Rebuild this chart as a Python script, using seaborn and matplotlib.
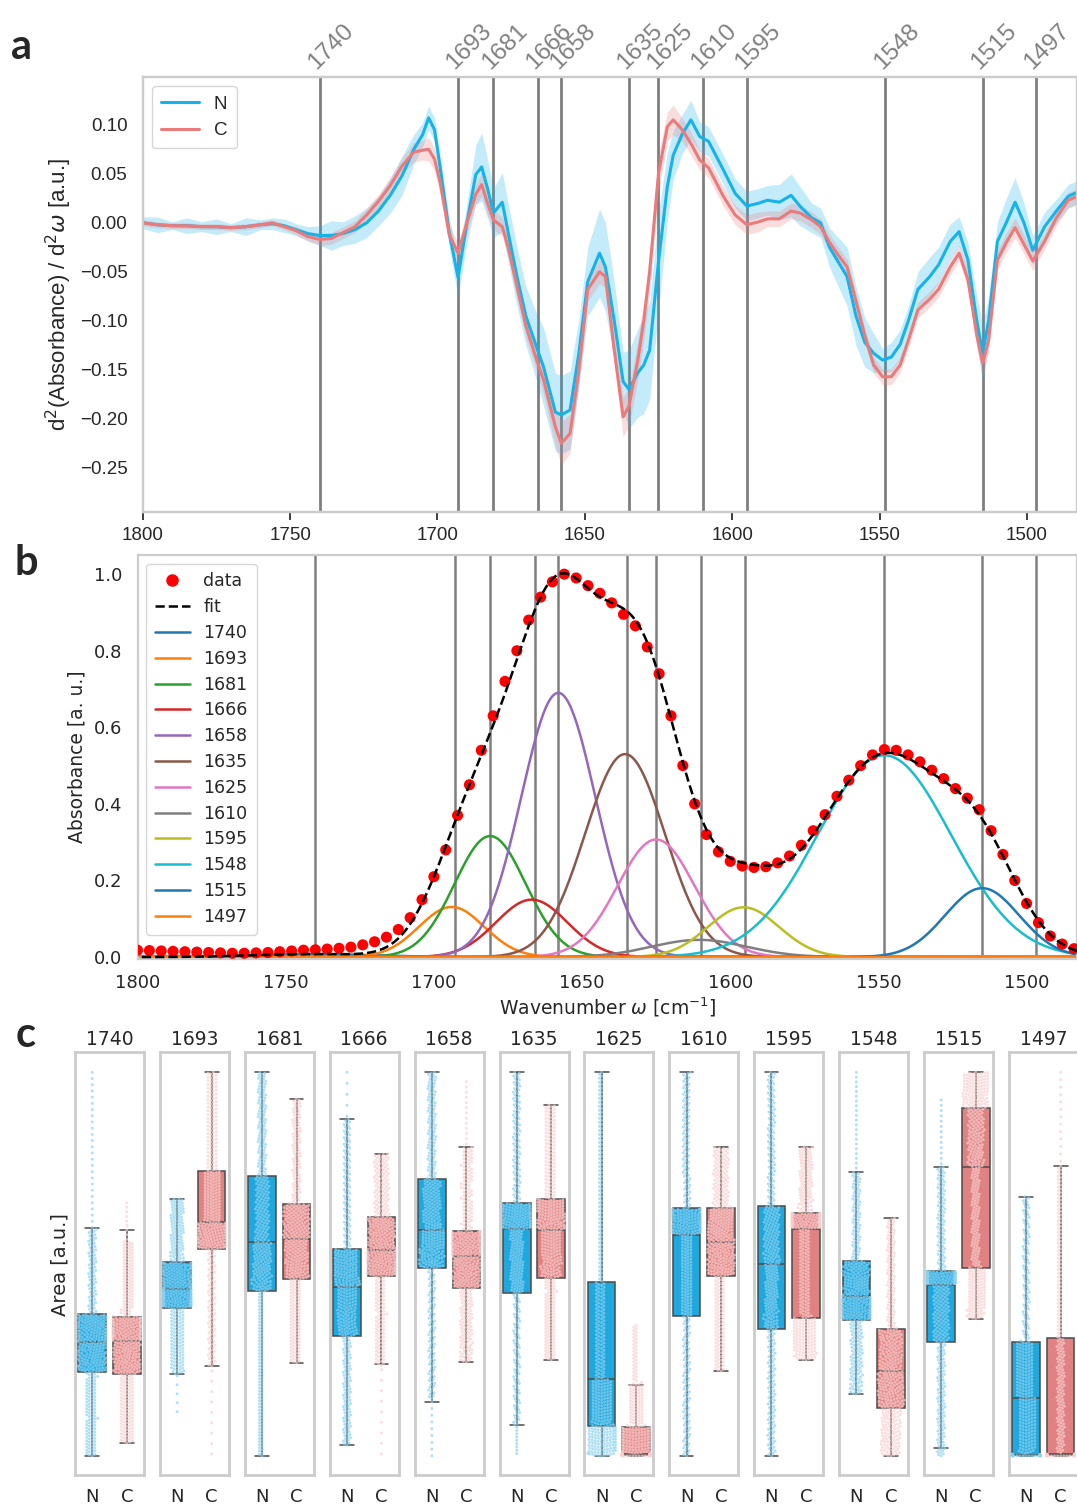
import warnings
import numpy as np
import pandas as pd
import matplotlib
matplotlib.use("Agg")
import matplotlib.pyplot as plt
from matplotlib.lines import Line2D
import seaborn as sns

warnings.filterwarnings("ignore")

# band positions (cm-1)
bands = [1740, 1693, 1681, 1666, 1658, 1635, 1625, 1610, 1595, 1548, 1515, 1497]

# ---- panel a: second derivative spectra, mean and spread per class
wn_a = [1800, 1795, 1790, 1785, 1780, 1775, 1770, 1765, 1760, 1756, 1752, 1748, 1744, 1740,
        1736, 1732, 1728, 1724, 1720, 1716, 1712, 1708, 1705, 1703, 1701, 1699, 1696, 1693,
        1690, 1687, 1685, 1683, 1681, 1678, 1676, 1673, 1670, 1666, 1664, 1660, 1658, 1655,
        1652, 1649, 1645, 1643, 1640, 1637, 1635, 1632, 1630, 1628, 1625, 1622, 1620, 1617,
        1614, 1611, 1608, 1603, 1599, 1595, 1591, 1588, 1584, 1580, 1577, 1573, 1570, 1567,
        1564, 1561, 1558, 1555, 1552, 1549, 1546, 1543, 1540, 1537, 1533, 1530, 1526, 1523,
        1520, 1517, 1515, 1513, 1510, 1507, 1504, 1501, 1498, 1494, 1490, 1486, 1483]
d2_n = [0.000, -0.002, -0.003, -0.003, -0.004, -0.004, -0.005, -0.004, -0.002, -0.001, -0.003,
        -0.007, -0.011, -0.013, -0.013, -0.011, -0.007, 0.000, 0.012, 0.028, 0.048, 0.075, 0.090,
        0.107, 0.095, 0.055, -0.010, -0.056, 0.000, 0.049, 0.057, 0.035, 0.010, 0.021, -0.010,
        -0.055, -0.095, -0.130, -0.147, -0.193, -0.196, -0.191, -0.133, -0.060, -0.031, -0.045,
        -0.100, -0.162, -0.170, -0.153, -0.145, -0.130, -0.040, 0.037, 0.069, 0.090, 0.105, 0.088,
        0.083, 0.054, 0.030, 0.017, 0.020, 0.023, 0.021, 0.028, 0.017, 0.005, 0.000, -0.025,
        -0.040, -0.055, -0.095, -0.122, -0.133, -0.140, -0.137, -0.124, -0.098, -0.068, -0.055,
        -0.043, -0.019, -0.009, -0.038, -0.100, -0.133, -0.100, -0.019, 0.000, 0.021, 0.000,
        -0.028, -0.004, 0.012, 0.027, 0.031]
d2_c = [0.000, -0.002, -0.003, -0.003, -0.004, -0.004, -0.005, -0.004, -0.002, 0.000, -0.004,
        -0.008, -0.014, -0.017, -0.016, -0.010, -0.004, 0.008, 0.022, 0.038, 0.058, 0.072, 0.074,
        0.075, 0.065, 0.040, -0.012, -0.031, 0.000, 0.029, 0.039, 0.020, 0.003, -0.004, -0.025,
        -0.065, -0.105, -0.143, -0.160, -0.208, -0.225, -0.215, -0.150, -0.068, -0.050, -0.055,
        -0.130, -0.198, -0.187, -0.140, -0.100, -0.050, 0.050, 0.098, 0.105, 0.095, 0.081, 0.064,
        0.056, 0.027, 0.008, -0.002, 0.001, 0.004, 0.004, 0.012, 0.010, 0.003, -0.004, -0.020,
        -0.033, -0.045, -0.080, -0.115, -0.145, -0.157, -0.157, -0.145, -0.118, -0.089, -0.078,
        -0.068, -0.045, -0.031, -0.058, -0.115, -0.143, -0.120, -0.038, -0.020, -0.005, -0.022,
        -0.039, -0.019, 0.005, 0.023, 0.027]
err_n = [0.006, 0.008, 0.004, 0.008, 0.005, 0.008, 0.004, 0.009, 0.005, 0.006, 0.007, 0.006,
         0.007, 0.010, 0.015, 0.012, 0.014, 0.015, 0.015, 0.018, 0.020, 0.015, 0.012, 0.012,
         0.012, 0.012, 0.015, 0.020, 0.020, 0.030, 0.035, 0.030, 0.025, 0.030, 0.030, 0.030,
         0.030, 0.035, 0.040, 0.040, 0.040, 0.040, 0.035, 0.035, 0.045, 0.045, 0.040, 0.030,
         0.040, 0.045, 0.050, 0.050, 0.050, 0.035, 0.025, 0.020, 0.020, 0.015, 0.015, 0.015,
         0.015, 0.015, 0.015, 0.015, 0.018, 0.022, 0.020, 0.015, 0.015, 0.020, 0.025, 0.030,
         0.030, 0.025, 0.020, 0.012, 0.015, 0.015, 0.015, 0.018, 0.020, 0.018, 0.018, 0.015,
         0.018, 0.025, 0.030, 0.025, 0.020, 0.025, 0.025, 0.020, 0.015, 0.015, 0.012, 0.012, 0.012]
err_c = [0.003, 0.003, 0.003, 0.003, 0.003, 0.003, 0.003, 0.003, 0.003, 0.003, 0.003, 0.004,
         0.005, 0.006, 0.006, 0.006, 0.006, 0.007, 0.007, 0.008, 0.008, 0.010, 0.010, 0.012,
         0.012, 0.012, 0.010, 0.010, 0.010, 0.010, 0.012, 0.012, 0.010, 0.010, 0.010, 0.012,
         0.012, 0.012, 0.015, 0.020, 0.022, 0.020, 0.015, 0.012, 0.012, 0.012, 0.015, 0.020,
         0.020, 0.020, 0.020, 0.020, 0.020, 0.015, 0.015, 0.012, 0.012, 0.010, 0.010, 0.010,
         0.010, 0.010, 0.010, 0.008, 0.008, 0.008, 0.008, 0.008, 0.008, 0.008, 0.008, 0.008,
         0.008, 0.008, 0.008, 0.008, 0.008, 0.008, 0.008, 0.008, 0.008, 0.008, 0.008, 0.008,
         0.010, 0.012, 0.015, 0.012, 0.010, 0.010, 0.010, 0.010, 0.010, 0.008, 0.008, 0.008, 0.008]

# ---- panel b: measured spectrum (every 4 cm-1) and fitted components
wn_b = list(range(1800, 1483, -4))
absorb = [0.018, 0.017, 0.016, 0.015, 0.014, 0.013, 0.012, 0.011, 0.010, 0.010, 0.011, 0.012,
          0.014, 0.016, 0.018, 0.019, 0.021, 0.023, 0.026, 0.032, 0.040, 0.052, 0.072, 0.103,
          0.150, 0.210, 0.280, 0.370, 0.450, 0.540, 0.630, 0.720, 0.800, 0.880, 0.940, 0.980,
          1.000, 0.990, 0.970, 0.950, 0.925, 0.895, 0.865, 0.810, 0.740, 0.630, 0.500, 0.400,
          0.320, 0.275, 0.250, 0.238, 0.234, 0.236, 0.246, 0.264, 0.292, 0.330, 0.372, 0.420,
          0.462, 0.500, 0.528, 0.542, 0.540, 0.528, 0.510, 0.488, 0.466, 0.440, 0.415, 0.385,
          0.330, 0.268, 0.200, 0.140, 0.090, 0.055, 0.034, 0.022]
comp_center = [1740, 1694, 1681, 1667, 1658, 1635.5, 1625, 1610.5, 1595.5, 1548, 1515, 1497]
comp_height = [0.008, 0.131, 0.316, 0.150, 0.690, 0.530, 0.307, 0.045, 0.130, 0.527, 0.180, 0.002]
comp_sigma = [20, 11, 12, 12, 12.5, 13.5, 13, 16, 12, 22.5, 12.5, 15]

# ---- panel c: box statistics of band areas (normalised per band)
n_min = [0.0, 0.115, 0.0, 0.028, 0.0, 0.006, 0.0, 0.0, 0.0, 0.161, 0.0, 0.0]
n_wlo = [0.0, 0.213, 0.0, 0.028, 0.148, 0.078, 0.0, 0.0, 0.0, 0.161, 0.023, 0.0]
n_q1 = [0.219, 0.387, 0.430, 0.312, 0.489, 0.426, 0.078, 0.365, 0.330, 0.354, 0.297, 0.002]
n_med = [0.297, 0.434, 0.557, 0.441, 0.589, 0.591, 0.199, 0.577, 0.500, 0.417, 0.447, 0.151]
n_q3 = [0.369, 0.504, 0.730, 0.539, 0.721, 0.658, 0.452, 0.645, 0.650, 0.508, 0.482, 0.297]
n_whi = [0.593, 0.670, 1.0, 0.880, 1.0, 1.0, 1.0, 1.0, 1.0, 0.739, 0.754, 0.676]
n_max = [1.0, 0.670, 1.0, 1.0, 1.0, 1.0, 1.0, 1.0, 1.0, 1.0, 0.928, 0.676]
n_tail_lo = [0, 0.01, 0, 0, 0.02, 0.02, 0, 0, 0, 0, 0.02, 0]
n_tail_hi = [0.06, 0, 0, 0.01, 0, 0, 0, 0, 0, 0.05, 0.03, 0]

c_min = [0.034, 0.005, 0.243, 0.005, 0.245, 0.251, 0.0, 0.221, 0.251, 0.0, 0.358, 0.0]
c_wlo = [0.034, 0.232, 0.243, 0.235, 0.245, 0.251, 0.0, 0.221, 0.251, 0.0, 0.358, 0.0]
c_q1 = [0.213, 0.539, 0.461, 0.469, 0.437, 0.465, 0.003, 0.470, 0.360, 0.126, 0.490, 0.002]
c_med = [0.300, 0.609, 0.565, 0.537, 0.522, 0.589, 0.005, 0.557, 0.593, 0.221, 0.754, 0.004]
c_q3 = [0.363, 0.743, 0.657, 0.623, 0.586, 0.670, 0.076, 0.647, 0.634, 0.330, 0.906, 0.306]
c_whi = [0.560, 1.0, 0.930, 0.787, 0.806, 0.915, 0.189, 0.804, 0.806, 0.619, 1.0, 0.757]
c_max = [0.660, 1.0, 0.930, 0.787, 0.975, 0.915, 0.340, 0.804, 0.806, 0.619, 1.0, 1.0]
c_tail_lo = [0, 0.02, 0, 0.02, 0, 0, 0, 0, 0, 0, 0, 0]
c_tail_hi = [0.02, 0, 0, 0, 0.03, 0, 0.08, 0, 0, 0, 0, 0.03]

N_LINE, C_LINE = "#16B2EA", "#EB7B7B"
N_BOX, C_BOX = "#1EA8DD", "#E08282"
N_PT, C_PT = "#8DD2F1", "#F9CFCF"
VLINE = "#7f7f7f"
ARIAL = "Liberation Sans"

sns.set_theme(style="whitegrid", rc={"axes.grid": False, "axes.edgecolor": "#cccccc",
                                     "axes.linewidth": 1.6, "xtick.bottom": False,
                                     "ytick.left": False})
plt.rcParams["font.family"] = ["DejaVu Sans"]

W, H = 1077, 1505
fig = plt.figure(figsize=(W / 100, H / 100), dpi=100)


def box(l, t, r, b):
    return [l / W, 1 - b / H, (r - l) / W, (b - t) / H]


# ================= panel a
ax = fig.add_axes(box(142.7, 76.7, 1077, 512))
for b in bands:
    ax.axvline(b, color=VLINE, lw=2, zorder=1)
lo_n = np.array(d2_n) - np.array(err_n)
hi_n = np.array(d2_n) + np.array(err_n)
lo_c = np.array(d2_c) - np.array(err_c)
hi_c = np.array(d2_c) + np.array(err_c)
ax.fill_between(wn_a, lo_n, hi_n, color=N_LINE, alpha=0.25, lw=0, zorder=2)
ax.fill_between(wn_a, lo_c, hi_c, color=C_LINE, alpha=0.25, lw=0, zorder=2)
sns.lineplot(x=wn_a, y=d2_n, color=N_LINE, lw=2.2, label="N", ax=ax, zorder=3)
sns.lineplot(x=wn_a, y=d2_c, color=C_LINE, lw=2.2, label="C", ax=ax, zorder=3)
ax.set_xlim(1800, 1483)
ax.set_ylim(-0.295, 0.149)
ax.set_xticks([1800, 1750, 1700, 1650, 1600, 1550, 1500])
ax.set_yticks([0.10, 0.05, 0.00, -0.05, -0.10, -0.15, -0.20, -0.25])
ax.tick_params(labelsize=13.5, pad=5)
for lbl in ax.get_xticklabels() + ax.get_yticklabels():
    lbl.set_fontfamily(ARIAL)
ax.set_ylabel(r"d$^2$(Absorbance) / d$^2\omega$ [a.u.]", fontsize=16, family=ARIAL, labelpad=4)
leg = ax.legend(loc="upper left", prop={"family": ARIAL, "size": 13.5},
                handlelength=2.0, borderpad=0.5, frameon=True)
leg.get_frame().set_edgecolor("#cccccc")

top = ax.twiny()
top.set_xlim(ax.get_xlim())
top.set_xticks(bands)
top.set_xticklabels([str(b) for b in bands], rotation=45, ha="left", va="bottom",
                    rotation_mode="anchor", color="#808080", fontsize=17.5, family=ARIAL)
top.tick_params(axis="x", top=False, length=0, pad=2)
top.grid(False)

# ================= panel b
ax = fig.add_axes(box(137.5, 555, 1077, 959))
for b in bands:
    ax.axvline(b, color=VLINE, lw=1.8, zorder=1)
x_fine = np.linspace(1800, 1483, 700)
palette = sns.color_palette("tab10")
comp_colors = [palette[i % 10] for i in range(len(bands))]
fit = np.zeros_like(x_fine)
comp_handles = []
for b, c0, h0, s0, col in zip(bands, comp_center, comp_height, comp_sigma, comp_colors):
    yk = h0 * np.exp(-0.5 * ((x_fine - c0) / s0) ** 2)
    fit += yk
    sns.lineplot(x=x_fine, y=yk, color=col, lw=1.8, ax=ax, zorder=2)
    comp_handles.append(Line2D([], [], color=col, lw=1.8, label=str(b)))
sns.scatterplot(x=wn_b, y=absorb, color="#ff0000", s=64, edgecolor="none", ax=ax, zorder=3)
sns.lineplot(x=x_fine, y=fit, color="black", lw=1.8, ls="--", ax=ax, zorder=4)
ax.set_xlim(1800, 1483)
ax.set_ylim(-0.005, 1.05)
ax.set_xticks([1800, 1750, 1700, 1650, 1600, 1550, 1500])
ax.set_yticks([0.0, 0.2, 0.4, 0.6, 0.8, 1.0])
ax.tick_params(labelsize=13, pad=5)
ax.set_xlabel(r"Wavenumber $\omega$ [cm$^{-1}$]", fontsize=13.5, labelpad=2)
ax.set_ylabel("Absorbance [a. u.]", fontsize=13.5, labelpad=5)
handles = [Line2D([], [], color="#ff0000", marker="o", ls="none", ms=8, label="data"),
           Line2D([], [], color="black", ls="--", lw=1.8, label="fit")] + comp_handles
leg = ax.legend(handles=handles, loc="upper left", fontsize=12.5, handlelength=2.0,
                labelspacing=0.45, borderpad=0.5, frameon=True)
leg.get_frame().set_edgecolor("#cccccc")


# ================= panel c
def spread(lo, wlo, q1, med, q3, whi, hi, t_lo, t_hi, n=420):
    # values laid out along the quantile curve given by the box statistics
    p = [0, max(t_lo, 1e-4), 0.25, 0.5, 0.75, 1 - max(t_hi, 1e-4), 1]
    v = [lo, wlo, q1, med, q3, whi, hi]
    return np.interp(np.linspace(0, 1, n), p, v)


for i, b in enumerate(bands):
    left = 75 + 84.9 * i
    axc = fig.add_axes(box(left, 1052, left + 69, 1475))
    vn = spread(n_min[i], n_wlo[i], n_q1[i], n_med[i], n_q3[i], n_whi[i], n_max[i],
                n_tail_lo[i], n_tail_hi[i])
    vc = spread(c_min[i], c_wlo[i], c_q1[i], c_med[i], c_q3[i], c_whi[i], c_max[i],
                c_tail_lo[i], c_tail_hi[i])
    df = pd.DataFrame({"group": ["N"] * len(vn) + ["C"] * len(vc),
                       "area": np.concatenate([vn, vc])})
    sns.boxplot(data=df, x="group", y="area", hue="group", order=["N", "C"],
                palette={"N": N_BOX, "C": C_BOX}, saturation=1, showfliers=False,
                width=0.8, linecolor="#4a4a4a", linewidth=1.1, legend=False, ax=axc)
    sns.swarmplot(data=df, x="group", y="area", hue="group", order=["N", "C"],
                  palette={"N": N_PT, "C": C_PT}, size=2.1, alpha=0.7, legend=False, ax=axc)
    axc.set_xlim(-0.5, 1.5)
    axc.set_ylim(-0.05, 1.053)
    axc.set_yticks([])
    axc.set_xlabel("")
    axc.set_ylabel("")
    axc.set_title(str(b), fontsize=13.5, pad=5)
    axc.tick_params(axis="x", labelsize=13, pad=3)
    for s in axc.spines.values():
        s.set_linewidth(2)

fig.text(60 / W, 1 - 1265 / H, "Area [a.u.]", rotation=90, ha="center", va="center",
         fontsize=14)

# panel letters
for letter, (x, y) in zip("abc", [(22, 47), (26, 563), (26, 1035)]):
    fig.text(x / W, 1 - y / H, letter, fontsize=30, fontweight="bold", family="Lato",
             ha="center", va="center")

fig.savefig("out.png", dpi=100)
